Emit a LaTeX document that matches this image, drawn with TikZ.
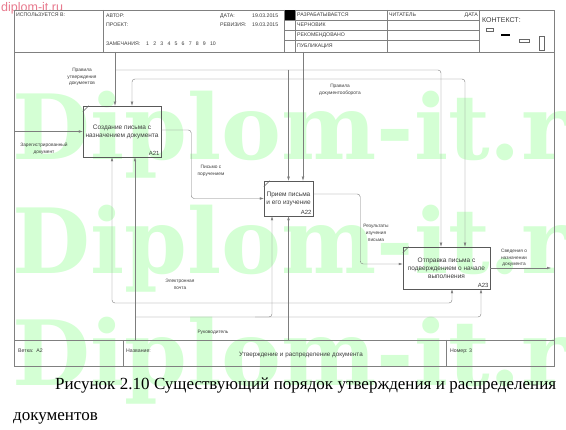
\documentclass[tikz,border=0pt]{standalone}
\usepackage{fontspec}
\setmainfont{Liberation Serif}
\newfontfamily\idefsans{Liberation Sans}
\newfontfamily\wmserif{DejaVu Serif}
\usetikzlibrary{calc,arrows.meta}
\definecolor{wmgreen}{RGB}{212,255,212}
\definecolor{wmpink}{RGB}{232,122,142}
\definecolor{linegray}{RGB}{125,125,125}
\definecolor{textgray}{RGB}{60,60,60}
\tikzset{
  func/.style={draw=black!65, line width=0.5pt, inner sep=0pt, align=center, text=textgray,
    font=\idefsans\fontsize{6.5}{8}\selectfont},
  fid/.style={anchor=south east, inner sep=1.5pt, text=textgray, font=\idefsans\fontsize{6}{7}\selectfont},
  flow/.style={draw=linegray, line width=0.4pt, rounded corners=3pt, -{Latex[length=4pt,width=2.6pt]}},
  lbl/.style={align=center, inner sep=0pt, text=textgray, font=\idefsans\fontsize{4.8}{6.8}\selectfont},
  hdr/.style={anchor=west, inner sep=0pt, text=textgray, font=\idefsans\fontsize{5.2}{6}\selectfont},
  frame/.style={draw=black!50, line width=0.45pt},
  wm/.style={anchor=base west, inner sep=0pt, text=wmgreen, font=\wmserif\bfseries\fontsize{90}{90}\selectfont},
  capline/.style={anchor=base west, inner sep=0pt, font=\fontsize{17}{19}\selectfont},
}

\begin{document}
\begin{tikzpicture}[x=1pt,y=-1pt]
\useasboundingbox[fill=white] (0,0) rectangle (566,430);
% watermark
\begin{scope}
\clip (0,0) rectangle (566,430);
\node[wm] (wm1) at (12,160) {Diplom-it.ru}; \node[wm] (wm2) at (12,274) {Diplom-it.ru}; \node[wm] (wm3) at (12,386) {Diplom-it.ru};
\end{scope}
\node[anchor=base west, inner sep=0pt, text=wmpink, font=\idefsans\fontsize{12.5}{14}\selectfont] (site) at (1,12) {diplom-it.ru};

% frame and header
\draw[frame] (14,10) rectangle (554,366);
\draw[frame] (14,52) -- (554,52); \draw[frame] (14,340) -- (554,340);
\draw[frame] (103,10) -- (103,52); \draw[frame] (284,10) -- (284,52); \draw[frame] (295,10) -- (295,52);
\draw[frame] (387,10) -- (387,52); \draw[frame] (479,10) -- (479,52);
\draw[frame] (284,20) -- (479,20); \draw[frame] (284,30) -- (479,30); \draw[frame] (284,40) -- (479,40);
\fill[black] (284.5,10.5) rectangle (295,20);
\node[hdr] (usedin) at (16,15) {ИСПОЛЬЗУЕТСЯ В:};
\node[hdr] (author) at (106,16) {АВТОР:}; \node[hdr] (project) at (106,25) {ПРОЕКТ:};
\node[hdr] (notes) at (106,44) {ЗАМЕЧАНИЯ:\hspace{6pt}1\hspace{4.2pt}2\hspace{4.2pt}3\hspace{4.2pt}4\hspace{4.2pt}5\hspace{4.2pt}6\hspace{4.2pt}7\hspace{4.2pt}8\hspace{4.2pt}9\hspace{4.2pt}10};
\node[hdr] (date) at (220,16) {ДАТА:}; \node[hdr] (dateval) at (252,16) {19.03.2015};
\node[hdr] (rev) at (220,25) {РЕВИЗИЯ:}; \node[hdr] (revval) at (252,25) {19.03.2015};
\node[hdr] (st1) at (297,15) {РАЗРАБАТЫВАЕТСЯ}; \node[hdr] (st2) at (297,25) {ЧЕРНОВИК};
\node[hdr] (st3) at (297,35) {РЕКОМЕНДОВАНО}; \node[hdr] (st4) at (297,46) {ПУБЛИКАЦИЯ};
\node[hdr] (reader) at (389,15) {ЧИТАТЕЛЬ}; \node[hdr, anchor=east] (rdate) at (478,15) {ДАТА};
\node[hdr, font=\idefsans\fontsize{7}{8}\selectfont] (context) at (482,20) {КОНТЕКСТ:};
\draw[black!60, line width=0.4pt] (486,28.3) rectangle (493.3,31); \fill[black] (501,34) rectangle (510,36);
\draw[black!60, line width=0.4pt] (519.5,39.3) rectangle (529,42.3); \draw[black!60, line width=0.4pt] (538.7,36.7) rectangle (544,50);

% functions
\node[func, minimum width=78pt, minimum height=51pt] (a21) at (122,131.5) {Создание письма с\\назначением документа};
\node[func, minimum width=49pt, minimum height=35pt] (a22) at (288.5,198.5) {Прием письма\\и его изучение};
\node[func, minimum width=87pt, minimum height=42pt] (a23) at (446.5,268) {Отправка письма с\\подверждением о начале\\выполнения};
\node[fid] (a21id) at (a21.south east) {A21}; \node[fid] (a22id) at (a22.south east) {A22}; \node[fid] (a23id) at (a23.south east) {A23};
\foreach \b in {a21,a22,a23} \draw[black!60, line width=0.4pt] ([yshift=-6pt]\b.north west) -- ([xshift=6pt]\b.north west);

% inputs and outputs
\coordinate (regIn) at (14,131.5); \coordinate (infoOut) at (551,268);
\draw[flow] (regIn) -- (a21.west);
\draw[flow] ([yshift=1.5pt]a21.east) -- ++(30,0) |- (a22.west);
\draw[flow] ([yshift=4.5pt]a22.east) -- ++(47,0) |- ([yshift=4pt]a23.west);
\draw[flow] (a23.east) -- (infoOut);

% controls
\coordinate (apprTop) at (115,52); \coordinate (apprJ) at (115,70);
\coordinate (docTop) at (303,52); \coordinate (docJ) at (303,79);
\draw[flow] (apprTop) -- (apprTop |- a21.north);
\draw[flow] (apprJ) -| ([xshift=-5.5pt]a23.north);
\draw[flow] (apprJ -| a22.north) -- (a22.north);
\draw[flow] (docTop) -- (docTop |- a22.north);
\draw[flow] (docJ) -| ([xshift=10pt]a21.north);
\draw[flow] (docJ) -| ([xshift=18.5pt]a23.north);

% mechanisms
\coordinate (bossBot) at (135,340); \coordinate (bossJ) at (135,317);
\coordinate (mailBot) at (288.5,340); \coordinate (mailJ) at (288.5,303);
\draw[flow] (bossBot) -- (bossBot |- a21.south);
\draw[flow] (bossJ) -| ([xshift=34.5pt]a23.south);
\draw[flow] ([xshift=120pt]bossJ) -| ([xshift=-16.5pt]a22.south);
\draw[flow] (mailBot) -- (a22.south);
\draw[flow] (mailJ) -| ([xshift=-10pt]a21.south);
\draw[flow] (mailJ) -| ([xshift=5.5pt]a23.south);

% arrow labels
\node[lbl] (lApprRule) at (82,77) {Правила\\утверждения\\документов};
\node[lbl] (lDocRule) at (340,90) {Правила\\документооборота};
\node[lbl] (lRegDoc) at (44,149) {Зарегистрированный\\документ};
\node[lbl] (lLetter) at (211,171) {Письмо с\\поручением};
\node[lbl] (lResult) at (376,233) {Результаты\\изучения\\письма};
\node[lbl] (lInfo) at (514,258) {Сведения о\\назначении\\документа};
\node[lbl] (lMail) at (180,284) {Электронная\\почта};
\node[lbl] (lBoss) at (213,332) {Руководитель};

% bottom bar
\draw[frame] (123,340) -- (123,366); \draw[frame] (446,340) -- (446,366);
\node[hdr] (branch) at (18,351) {Ветка:\ \ A2};
\node[hdr] (nameLbl) at (126,351) {Название:};
\node[hdr, anchor=center, font=\idefsans\fontsize{6.3}{7}\selectfont] (title) at (301,355) {Утверждение и распределение документа};
\node[hdr] (number) at (450,351) {Номер:\ 3};

% caption
\node[capline] (cap1) at (55,390)
  {\hbox to 501pt{Рисунок\hfill 2.10\hfill Существующий\hfill порядок\hfill утверждения\hfill и\hfill распределения}};
\node[capline] (cap2) at (13,421) {документов};
\end{tikzpicture}
\end{document}
